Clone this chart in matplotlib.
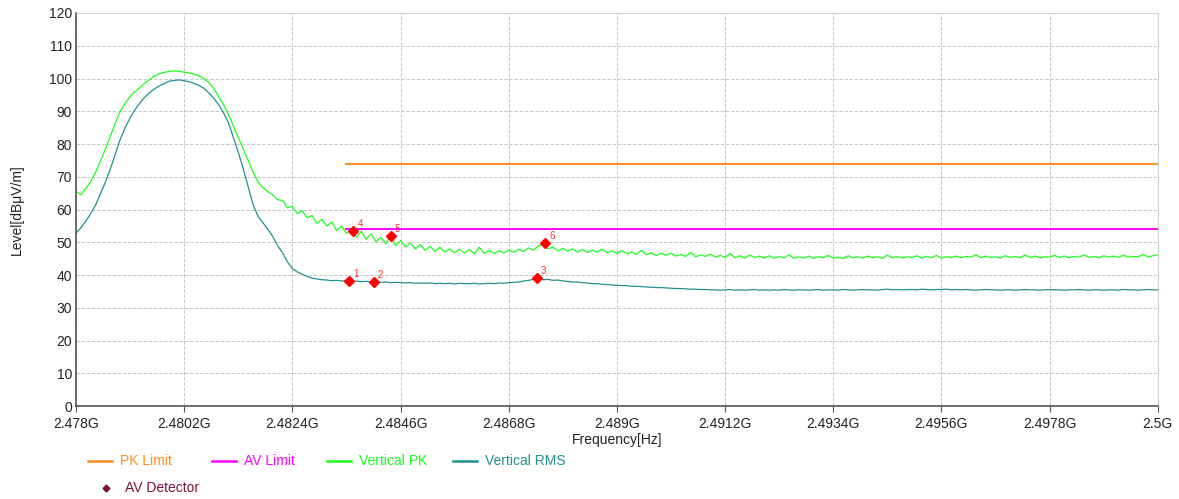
import numpy as np
import matplotlib
matplotlib.use("Agg")
import matplotlib.pyplot as plt
from matplotlib.lines import Line2D

plt.rcParams['font.family'] = ['Liberation Sans', 'DejaVu Sans']

# sweep grid (GHz), 0.1 MHz step
freq = np.linspace(2.478, 2.5, 221)

vertical_pk = [
    65.6, 64.5, 66.5, 68.5, 71.5, 75.0, 78.5, 82.5, 86.5, 90.0,
    92.5, 94.5, 96.0, 97.3, 98.6, 99.7, 100.8, 101.5, 101.9, 102.2,
    102.3, 102.2, 101.9, 101.7, 101.3, 100.8, 100.0, 98.8, 97.0, 94.5,
    92.0, 89.0, 85.5, 82.0, 78.5, 75.0, 71.5, 68.5, 66.7, 65.5,
    64.5, 63.0, 62.8, 60.5, 61.0, 58.8, 59.6, 57.5, 58.2, 55.8,
    57.0, 55.0, 56.2, 53.6, 55.0, 52.8, 54.0, 51.5, 53.4, 51.0,
    52.6, 50.2, 51.5, 49.6, 52.0, 49.0, 50.5, 48.6, 49.8, 48.0,
    49.3, 47.6, 48.8, 47.2, 48.5, 47.0, 48.0, 46.8, 47.9, 46.7,
    47.8, 46.5, 48.5, 46.7, 47.5, 46.6, 47.4, 46.8, 47.6, 47.0,
    47.9, 47.2, 48.3, 47.6, 48.8, 49.5, 48.0, 48.6, 47.4, 48.2,
    47.3, 48.0, 47.0, 47.8, 46.9, 47.6, 47.1, 47.9, 46.8, 47.4,
    46.6, 47.5, 46.5, 47.0, 46.3, 47.6, 46.2, 46.8, 46.0, 46.6,
    46.1, 46.7, 45.8, 46.3, 45.7, 46.9, 45.6, 46.2, 45.7, 46.4,
    45.5, 46.0, 45.4, 46.6, 45.3, 45.9, 45.2, 46.1, 45.4, 45.8,
    45.2, 45.9, 45.1, 45.7, 45.3, 46.2, 45.1, 45.6, 45.2, 45.8,
    45.1, 45.6, 45.3, 46.0, 45.2, 45.5, 45.1, 45.9, 45.3, 45.6,
    45.2, 45.8, 45.3, 45.6, 45.1, 46.1, 45.3, 45.7, 45.2, 45.6,
    45.4, 45.9, 45.2, 45.7, 45.3, 46.0, 45.2, 45.6, 45.4, 45.8,
    45.3, 45.7, 45.5, 46.2, 45.3, 45.8, 45.4, 45.6, 45.2, 45.9,
    45.4, 45.7, 45.3, 46.1, 45.4, 45.8, 45.3, 45.6, 45.5, 46.0,
    45.4, 45.8, 45.3, 45.7, 45.5, 46.2, 45.4, 45.7, 45.3, 45.9,
    45.5, 45.8, 45.4, 46.1, 45.5, 45.7, 45.6, 46.3, 45.5, 45.9, 46.2,
]

vertical_rms = [
    52.8, 54.5, 56.5, 58.8, 61.5, 65.0, 68.5, 72.5, 77.0, 81.5,
    85.0, 88.0, 90.5, 92.6, 94.3, 95.7, 96.9, 97.8, 98.5, 99.2,
    99.4, 99.6, 99.3, 99.0, 98.5, 97.9, 97.0, 95.6, 94.0, 92.0,
    89.5, 86.5, 82.0, 77.5, 72.5, 67.0, 61.5, 58.0, 56.0, 54.0,
    51.8, 49.0, 46.8, 44.0, 42.0, 41.0, 40.3, 39.6, 39.1, 38.8,
    38.6, 38.5, 38.3, 38.4, 38.2, 38.3, 38.1, 38.2, 38.0, 38.1,
    37.9, 38.0, 37.8, 37.9, 37.7, 37.8, 37.7, 37.6, 37.7, 37.5,
    37.6, 37.5, 37.6, 37.4, 37.5, 37.4, 37.5, 37.3, 37.5, 37.4,
    37.4, 37.5, 37.3, 37.4, 37.5, 37.4, 37.6, 37.5, 37.7, 37.8,
    37.9, 38.2, 38.4, 38.7, 38.9, 38.6, 38.7, 38.4, 38.5, 38.2,
    38.1, 37.9, 37.9, 37.7, 37.6, 37.4, 37.4, 37.2, 37.1, 37.0,
    36.9, 36.8, 36.8, 36.6, 36.6, 36.5, 36.4, 36.3, 36.2, 36.2,
    36.1, 36.0, 35.9, 35.9, 35.8, 35.7, 35.7, 35.6, 35.6, 35.5,
    35.5, 35.4, 35.5, 35.6, 35.4, 35.5, 35.4, 35.5, 35.6, 35.4,
    35.5, 35.4, 35.5, 35.4, 35.6, 35.5, 35.4, 35.5, 35.5, 35.4,
    35.5, 35.6, 35.4, 35.5, 35.5, 35.4, 35.6, 35.5, 35.4, 35.5,
    35.6, 35.5, 35.5, 35.4, 35.6, 35.7, 35.5, 35.6, 35.5, 35.6,
    35.6, 35.5, 35.7, 35.6, 35.5, 35.6, 35.6, 35.7, 35.5, 35.6,
    35.5, 35.6, 35.5, 35.4, 35.5, 35.6, 35.5, 35.5, 35.4, 35.5,
    35.5, 35.4, 35.5, 35.6, 35.5, 35.5, 35.4, 35.5, 35.6, 35.5,
    35.5, 35.4, 35.5, 35.5, 35.6, 35.5, 35.4, 35.5, 35.5, 35.4,
    35.5, 35.5, 35.4, 35.6, 35.5, 35.5, 35.4, 35.5, 35.6, 35.5, 35.5,
]

# limit lines (start at restricted band edge)
limit_freq = [2.4835, 2.5]
pk_limit = [74, 74]
av_limit = [54, 54]

# AV detector markers
marker_freq = [2.48356, 2.48405, 2.48737, 2.48364, 2.48440, 2.48754]
marker_level = [38.3, 37.9, 39.2, 53.5, 52.0, 49.8]
marker_ids = ['1', '2', '3', '4', '5', '6']

xticks = [2.478, 2.4802, 2.4824, 2.4846, 2.4868, 2.489, 2.4912, 2.4934, 2.4956, 2.4978, 2.5]
xtick_labels = ['2.478G', '2.4802G', '2.4824G', '2.4846G', '2.4868G', '2.489G',
                '2.4912G', '2.4934G', '2.4956G', '2.4978G', '2.5G']

c_pk_lim = '#FF8C1F'
c_av_lim = '#FF00FF'
c_pk = '#1EFF1E'
c_rms = '#23908F'
c_det = '#7A1040'

fig = plt.figure(figsize=(11.79, 4.99), dpi=100)
ax = fig.add_axes([0.0645, 0.186, 0.9175, 0.788])

ax.plot(limit_freq, pk_limit, color=c_pk_lim, lw=1.4)
ax.plot(limit_freq, av_limit, color=c_av_lim, lw=1.4)
ax.plot(freq, vertical_pk, color=c_pk, lw=0.9)
ax.plot(freq, vertical_rms, color=c_rms, lw=0.9)
ax.plot(marker_freq, marker_level, 'D', color='#FF0000', ms=5, mec='#FF0000')
for f, l, t in zip(marker_freq, marker_level, marker_ids):
    ax.annotate(t, (f, l), xytext=(3, 3), textcoords='offset points',
                color='#FF3030', fontsize=7)

ax.set_xlim(2.478, 2.5)
ax.set_ylim(0, 120)
ax.set_xticks(xticks)
ax.set_xticklabels(xtick_labels)
ax.set_yticks(range(0, 121, 10))
ax.tick_params(labelsize=10, length=4, color='#555555', labelcolor='#222222')
ax.tick_params(axis='y', length=0, pad=3)
ax.grid(True, color='#C8C8C8', ls='--', lw=0.7)
for s in ['top', 'right']:
    ax.spines[s].set_color('#D0D0D0')
for s in ['left', 'bottom']:
    ax.spines[s].set_color('#555555')
    ax.spines[s].set_linewidth(1.2)

ax.set_xlabel('Frequency[Hz]', fontsize=10, color='#222222', labelpad=2)
ax.set_ylabel('Level[dBμV/m]', fontsize=10, color='#222222', labelpad=18)

# legend drawn in figure coordinates
W, H = 1179, 499
entries = [('PK Limit', c_pk_lim, 88), ('AV Limit', c_av_lim, 212),
           ('Vertical PK', c_pk, 327), ('Vertical RMS', c_rms, 453)]
for name, col, x0 in entries:
    y = 1 - 461 / H
    fig.add_artist(Line2D([x0 / W, (x0 + 24) / W], [y, y], color=col, lw=1.8,
                          transform=fig.transFigure))
    fig.text((x0 + 32) / W, y, name, color=col, fontsize=10, va='center')
y2 = 1 - 488 / H
fig.add_artist(Line2D([106 / W], [y2], marker='D', ms=3.5, color=c_det, ls='none',
                      transform=fig.transFigure))
fig.text(125 / W, y2, 'AV Detector', color=c_det, fontsize=10, va='center')

fig.savefig('out.png', dpi=100)
